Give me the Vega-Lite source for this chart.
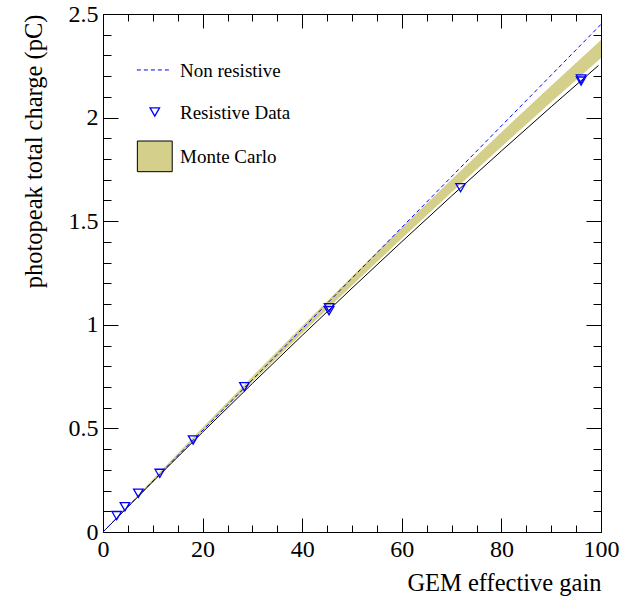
{
  "$schema": "https://vega.github.io/schema/vega-lite/v6.json",
  "width": 498,
  "height": 518,
  "autosize": "none",
  "padding": {"left": 103, "top": 14, "right": 25, "bottom": 71},
  "background": "white",
  "config": {
    "view": {"stroke": "black", "strokeWidth": 1},
    "font": "Liberation Serif",
    "axis": {
      "domain": false, "grid": false, "tickColor": "black", "tickWidth": 1,
      "labelColor": "black", "titleColor": "black", "labelFont": "Liberation Serif",
      "titleFont": "Liberation Serif", "labelFontSize": 24, "titleFontSize": 24.5,
      "titleFontWeight": "normal", "labelFlush": false, "labelOverlap": false
    }
  },
  "datasets": {
    "band": [
      {"x": 0, "lo": 0, "hi": 0},
      {"x": 10, "lo": 0.2453, "hi": 0.254},
      {"x": 20, "lo": 0.4869, "hi": 0.5043},
      {"x": 30, "lo": 0.7248, "hi": 0.7509},
      {"x": 40, "lo": 0.9591, "hi": 0.9939},
      {"x": 50, "lo": 1.1898, "hi": 1.2333},
      {"x": 60, "lo": 1.4167, "hi": 1.4689},
      {"x": 70, "lo": 1.64, "hi": 1.7009},
      {"x": 80, "lo": 1.8597, "hi": 1.9293},
      {"x": 90, "lo": 2.0757, "hi": 2.154},
      {"x": 100, "lo": 2.288, "hi": 2.375}
    ],
    "fit": [
      {"x": 0, "y": 0}, {"x": 10, "y": 0.2427}, {"x": 20, "y": 0.4817},
      {"x": 30, "y": 0.717}, {"x": 40, "y": 0.9487}, {"x": 50, "y": 1.1768},
      {"x": 60, "y": 1.4011}, {"x": 70, "y": 1.6218}, {"x": 80, "y": 1.8389},
      {"x": 90, "y": 2.0523}, {"x": 99.5, "y": 2.2516}
    ],
    "nonres": [{"x": 0, "y": 0}, {"x": 100, "y": 2.45}],
    "res": [
      {"x": 2.75, "y": 0.079}, {"x": 4.4, "y": 0.122}, {"x": 7.1, "y": 0.187},
      {"x": 11.4, "y": 0.283}, {"x": 18.1, "y": 0.444}, {"x": 28.4, "y": 0.701},
      {"x": 45.4, "y": 1.068}, {"x": 45.4, "y": 1.082}, {"x": 71.8, "y": 1.662},
      {"x": 96.0, "y": 2.176}, {"x": 96.0, "y": 2.186}
    ],
    "legtext": [
      {"x": 15.46, "y": 2.197, "label": "Non resistive"},
      {"x": 15.46, "y": 1.992, "label": "Resistive Data"},
      {"x": 15.46, "y": 1.779, "label": "Monte Carlo"}
    ],
    "legdash": [{"x": 6.8, "y": 2.23}, {"x": 13.6, "y": 2.23}],
    "legtri": [{"x": 10.4, "y": 2.027}],
    "legbox": [{"x": 6.9, "x2": 13.9, "y": 1.739, "y2": 1.887}]
  },
  "resolve": {"axis": {"x": "independent", "y": "independent"}},
  "layer": [
    {
      "data": {"name": "band"},
      "mark": {"type": "area", "color": "#d4cf8b", "opacity": 1},
      "encoding": {
        "x": {"field": "x", "type": "quantitative",
          "scale": {"domain": [0, 100], "nice": false, "zero": false},
          "axis": {"orient": "bottom", "values": [0, 20, 40, 60, 80, 100], "tickSize": -14,
            "labelPadding": 19, "labelFont": "Liberation Serif", "labelFontSize": 24, "format": "d",
            "title": "GEM effective gain", "titleFont": "Liberation Serif", "titleAnchor": "end",
            "titleAlign": "right", "titleBaseline": "alphabetic", "titleX": 498, "titleY": 58}},
        "y": {"field": "lo", "type": "quantitative",
          "scale": {"domain": [0, 2.5], "nice": false, "zero": false},
          "axis": {"orient": "left", "values": [0, 0.5, 1, 1.5, 2, 2.5], "tickSize": -15,
            "labelPadding": 20, "labelFont": "Liberation Serif", "labelFontSize": 24, "format": ".1~f",
            "title": "photopeak total charge (pC)", "titleFont": "Liberation Serif", "titleAnchor": "end",
            "titleAngle": -90, "titleAlign": "right", "titleBaseline": "alphabetic",
            "titleX": -62, "titleY": 0}},
        "y2": {"field": "hi"}
      }
    },
    {
      "data": {"name": "fit"},
      "mark": {"type": "line", "color": "black", "strokeWidth": 1},
      "encoding": {
        "x": {"field": "x", "type": "quantitative",
          "axis": {"orient": "bottom", "values": [5, 10, 15, 25, 30, 35, 45, 50, 55, 65, 70, 75, 85, 90, 95],
            "tickSize": -7, "labels": false, "title": null}},
        "y": {"field": "y", "type": "quantitative",
          "axis": {"orient": "left", "values": [0.1, 0.2, 0.3, 0.4, 0.6, 0.7, 0.8, 0.9, 1.1, 1.2, 1.3, 1.4, 1.6, 1.7, 1.8, 1.9, 2.1, 2.2, 2.3, 2.4],
            "tickSize": -8, "labels": false, "title": null}}
      }
    },
    {
      "data": {"name": "nonres"},
      "mark": {"type": "line", "color": "#0000ff", "strokeWidth": 1, "strokeDash": [4, 3]},
      "encoding": {
        "x": {"field": "x", "type": "quantitative",
          "axis": {"orient": "top", "values": [0, 20, 40, 60, 80, 100], "tickSize": -14, "labels": false, "title": null}},
        "y": {"field": "y", "type": "quantitative",
          "axis": {"orient": "right", "values": [0, 0.5, 1, 1.5, 2, 2.5], "tickSize": -15, "labels": false, "title": null}}
      }
    },
    {
      "data": {"name": "res"},
      "mark": {"type": "point", "shape": "triangle-down", "color": "#0000ff", "filled": false, "strokeWidth": 1.3, "size": 90, "opacity": 1},
      "encoding": {
        "x": {"field": "x", "type": "quantitative",
          "axis": {"orient": "top", "values": [5, 10, 15, 25, 30, 35, 45, 50, 55, 65, 70, 75, 85, 90, 95],
            "tickSize": -7, "labels": false, "title": null}},
        "y": {"field": "y", "type": "quantitative",
          "axis": {"orient": "right", "values": [0.1, 0.2, 0.3, 0.4, 0.6, 0.7, 0.8, 0.9, 1.1, 1.2, 1.3, 1.4, 1.6, 1.7, 1.8, 1.9, 2.1, 2.2, 2.3, 2.4],
            "tickSize": -8, "labels": false, "title": null}}
      }
    },
    {
      "data": {"name": "legdash"},
      "mark": {"type": "line", "color": "#0000ff", "strokeWidth": 1, "strokeDash": [4, 3]},
      "encoding": {
        "x": {"field": "x", "type": "quantitative", "axis": null},
        "y": {"field": "y", "type": "quantitative", "axis": null}
      }
    },
    {
      "data": {"name": "legtri"},
      "mark": {"type": "point", "shape": "triangle-down", "color": "#0000ff", "filled": false, "strokeWidth": 1.3, "size": 90, "opacity": 1},
      "encoding": {
        "x": {"field": "x", "type": "quantitative", "axis": null},
        "y": {"field": "y", "type": "quantitative", "axis": null}
      }
    },
    {
      "data": {"name": "legbox"},
      "mark": {"type": "rect", "fill": "#d4cf8b", "stroke": "black", "strokeWidth": 1},
      "encoding": {
        "x": {"field": "x", "type": "quantitative", "axis": null},
        "x2": {"field": "x2"},
        "y": {"field": "y", "type": "quantitative", "axis": null},
        "y2": {"field": "y2"}
      }
    },
    {
      "data": {"name": "legtext"},
      "mark": {"type": "text", "align": "left", "baseline": "alphabetic", "font": "Liberation Serif", "fontSize": 19, "color": "black"},
      "encoding": {
        "x": {"field": "x", "type": "quantitative", "axis": null},
        "y": {"field": "y", "type": "quantitative", "axis": null},
        "text": {"field": "label"}
      }
    }
  ]
}
